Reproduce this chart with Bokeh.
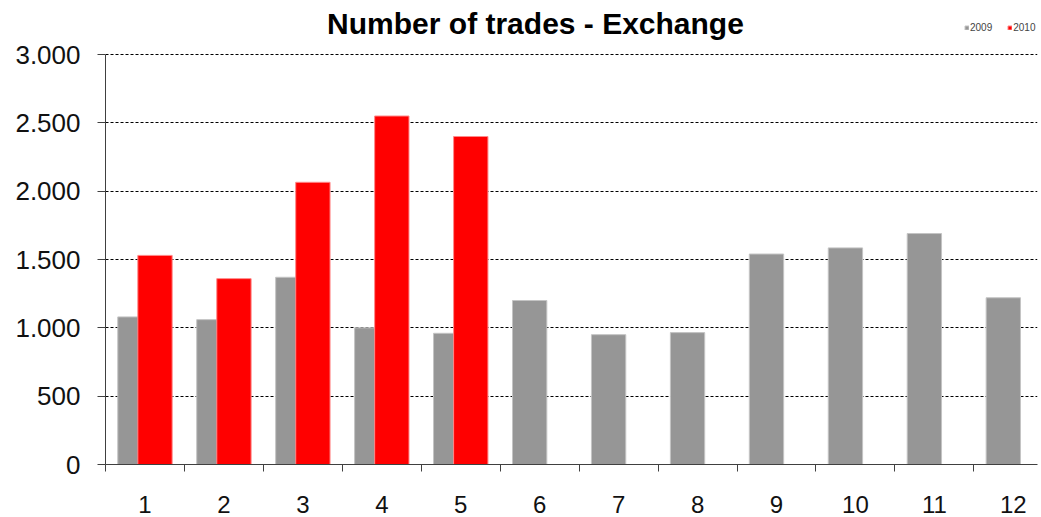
from bokeh.plotting import figure
from bokeh.models import ColumnDataSource, Range1d, FixedTicker, Legend, LegendItem, Label
from bokeh.transform import dodge
from bokeh.embed import file_html
from bokeh.resources import INLINE

# ---- data ----
months = [1, 2, 3, 4, 5, 6, 7, 8, 9, 10, 11, 12]
trades_2009 = [1080, 1060, 1370, 1000, 960, 1200, 950, 965, 1540, 1585, 1690, 1220]
months_2010 = [1, 2, 3, 4, 5]
trades_2010 = [1530, 1360, 2065, 2550, 2400]
y_ticks = [0, 500, 1000, 1500, 2000, 2500, 3000]
y_tick_labels = ["0", "500", "1.000", "1.500", "2.000", "2.500", "3.000"]
series_names = ["2009", "2010"]
title_text = "Number of trades - Exchange"

src09 = ColumnDataSource(dict(x=months, y=trades_2009))
src10 = ColumnDataSource(dict(x=months_2010, y=trades_2010))

FONT = "Liberation Sans"

# frame: left 105, top 0, bottom 464 ; value 3000 sits 410 px above the base
y_top = 3000 * 464 / 410
p = figure(width=1041, height=517, output_backend="svg", toolbar_location=None,
           x_range=Range1d(0.5, 12.306), y_range=Range1d(0, y_top),
           min_border_left=105, min_border_right=4, min_border_top=0, min_border_bottom=53)

p.outline_line_color = None
p.background_fill_color = "white"
p.border_fill_color = "white"

bw = 0.435
r09 = p.vbar(x=dodge("x", -0.127, range=p.x_range), top="y", width=bw, source=src09,
             fill_color="#969696", line_color="#c4c4c4", line_width=1)
r10 = p.vbar(x=dodge("x", 0.127, range=p.x_range), top="y", width=bw, source=src10,
             fill_color="#ff0000", line_color="#ff8a8a", line_width=1)

# grid
p.xgrid.grid_line_color = None
p.ygrid.ticker = FixedTicker(ticks=y_ticks[1:])
p.ygrid.grid_line_color = "#000000"
p.ygrid.grid_line_dash = "3 2"
p.ygrid.grid_line_width = 1

# y axis
ya = p.yaxis[0]
ya.ticker = FixedTicker(ticks=y_ticks)
ya.bounds = (y_ticks[0], y_ticks[-1])
ya.major_label_overrides = {t: l for t, l in zip(y_ticks, y_tick_labels)}
ya.major_label_text_font = FONT
ya.major_label_text_font_size = "26px"
ya.major_label_text_color = "#111111"
ya.major_tick_out = 8
ya.major_tick_in = 0
ya.minor_tick_out = 0
ya.minor_tick_in = 0
ya.major_label_standoff = 17
ya.axis_line_color = "#404040"
ya.major_tick_line_color = "#404040"

# x axis
xa = p.xaxis[0]
boundaries = [m + 0.5 for m in [0] + months]
xa.ticker = FixedTicker(ticks=months, minor_ticks=boundaries)
xa.major_label_text_font = FONT
xa.major_label_text_font_size = "24px"
xa.major_label_text_color = "#111111"
xa.major_tick_out = 0
xa.major_tick_in = 0
xa.minor_tick_out = 7
xa.minor_tick_in = 0
xa.minor_tick_line_color = "#404040"
xa.major_label_standoff = 24
xa.axis_line_color = "#404040"

title = Label(x=430, y=441, x_units="screen", y_units="screen", text=title_text,
              text_font=FONT, text_font_size="30px", text_font_style="bold",
              text_color="#000000", text_align="center", text_baseline="alphabetic")
p.add_layout(title)

legend = Legend(items=[LegendItem(label=series_names[0], renderers=[r09]),
                       LegendItem(label=series_names[1], renderers=[r10])],
                orientation="horizontal", location=(859, 431),
                label_text_font=FONT, label_text_font_size="10px",
                glyph_width=5, glyph_height=5, label_standoff=1, spacing=15,
                padding=0, margin=0, label_height=12, label_width=20,
                border_line_color=None, background_fill_alpha=0)
p.add_layout(legend)

open("out.html", "w").write(file_html(p, INLINE))
